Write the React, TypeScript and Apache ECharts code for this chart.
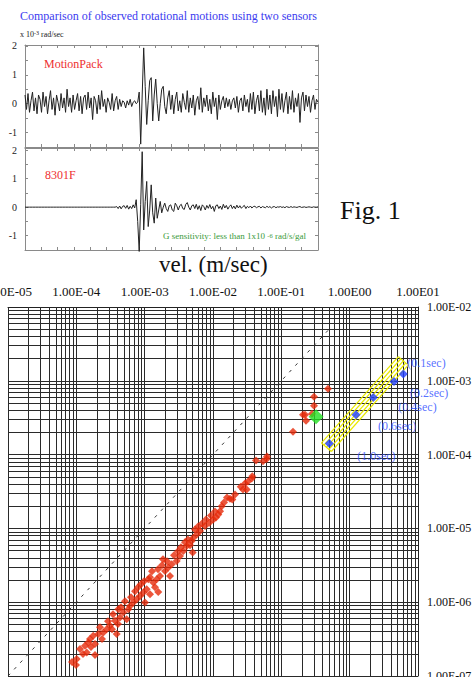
import React, { useEffect, useRef } from "react";
import * as echarts from "echarts";

// ---- waveform panels (units: x 10^-3 rad/sec), one sample per step ----
const motionPack = [
  0.3, -0.2, 0.35, -0.3, 0.1, 0.4, -0.25, 0.2, -0.35, 0.3,
  0.15, -0.3, 0.4, -0.1, 0.25, -0.35, 0.1, 0.45, -0.2, 0.2,
  -0.4, 0.3, 0.05, -0.25, 0.35, -0.15, 0.2, -0.3, 0.5, -0.1,
  0.2, -0.3, 0.3, -0.2, 0.1, 0.35, -0.25, 0.25, -0.35, 0.2,
  0.3, -0.2, 0.4, -0.15, 0.2, -0.55, 0.25, 0.1, -0.35, 0.3,
  -0.2, 0.45, -0.1, 0.15, -0.3, 0.2, 0.05, -0.2, 0.35, -0.25,
  0.1, 0.25, -0.2, 0.15, -0.1, 0.1, 0.05, -0.15, 0.1, -0.05,
  0.15, -0.1, 0.05, 0.1, 0.0, 0.05,
  0.4, -1.4, 0.3, 1.93, 0.6, -0.72, 0.1, 0.8, 0.9, -0.6,
  0.3, 0.85, 0.0, -0.6, 0.0, 0.5, 0.6, -0.1, -0.35, 0.2, 0.45,
  -0.2, 0.3, -0.35, 0.15, 0.4, -0.25, 0.1, -0.3, 0.35, 0.05, -0.2, 0.45, -0.3, 0.2, -0.15, 0.3, -0.4, 0.1, 0.25, -0.2,
  0.55, -0.3, 0.2, -0.1, 0.3, -0.25, 0.15, -0.35, 0.4, -0.1, 0.2, -0.55, 0.3, -0.2, 0.1, 0.25, -0.15, 0.2, -0.1, 0.15,
  -0.2, 0.1, 0.2, -0.15, 0.25, -0.3, 0.1, 0.2, -0.25, 0.3, -0.1, 0.15, -0.3, 0.35, -0.2, 0.4, -0.35, 0.1, 0.3, -0.25,
  0.45, -0.3, 0.2, -0.4, 0.5, -0.2, 0.3, -0.35, 0.45, -0.1, 0.25, -0.45, 0.5, -0.2, 0.35, -0.3, 0.1, 0.4, -0.35, 0.25,
  -0.2, 0.45, -0.3, 0.2, -0.1, 0.35, -0.65, 0.2, 0.4, -0.25, 0.3, -0.1, 0.25, -0.3, 0.1, 0.3, -0.2, 0.15, 0.05,
];

const sensor8301F = [
  0, 0, 0, 0, 0, 0, 0, 0, 0, 0, 0, 0, 0, 0, 0, 0, 0, 0, 0, 0,
  0, 0, 0, 0, 0, 0, 0, 0, 0, 0, 0, 0, 0, 0, 0, 0, 0, 0, 0, 0,
  0, 0, 0, 0, 0, 0, 0, 0, 0, 0, 0, 0, 0, 0, 0, 0, 0, 0, 0, 0, 0,
  0.02, -0.05, 0.04, -0.06, 0.03, 0.05, -0.04, 0.06, -0.07, 0.03, -0.05, 0.08, -0.03,
  0.26, -0.5, -1.55, 0.1, 1.94, -0.8, 0.2, 0.9, -0.68, -0.1, 0.78, -0.2, -0.56, 0.32, -0.39, -0.1,
  0.2, -0.2, 0.0, 0.14, -0.05, -0.15, 0.05, 0.08, -0.1, -0.15, 0.14, 0.05, -0.1, 0.05, 0.1, -0.05,
  -0.08, 0.1, 0.16, 0.0, -0.1, 0.05, 0.08,
  -0.05, 0.1, -0.08, 0.05, -0.12, 0.08, 0.02, -0.1, 0.06, -0.04, 0.09, -0.06, 0.03, -0.15, 0.05, 0.08, -0.05, 0.04,
  -0.08, 0.1, -0.03, 0.06, -0.07, 0.02, 0.08, -0.05, 0.04, -0.06, 0.07, -0.03, 0.05, -0.04, 0.02, 0.06, -0.05, 0.03, -0.02, 0.04,
  -0.03, 0.02, 0.03, -0.02, 0.01, 0.03, -0.03, 0.02, 0.0, -0.02, 0.03, -0.01, 0.02, -0.03, 0.01,
  0.02, -0.02, 0.01, 0.0, 0.02, -0.01, 0.01, -0.02, 0.02, 0.0, -0.01, 0.02, -0.01, 0.01, 0.0,
  -0.01, 0.01, 0.02, -0.01, 0.0, 0.01, -0.01, 0.0, 0.01, 0.0, -0.01, 0.01, 0.0, 0.0, 0.01,
];

const waveLabelTicks = [-1, 0, 1, 2];

// ---- log-log chart: log10(velocity m/s) vs log10(rotation rad/s) ----
const redLogVel = [
  -4.063, -4.005, -3.995, -3.946, -3.873, -3.848, -3.825, -3.8, -3.752, -3.727,
  -3.727, -3.678, -3.605, -3.556, -3.507, -3.434, -3.409, -3.386, -3.361, -3.313,
  -3.263, -3.239, -3.215, -3.166, -3.116, -3.068, -3.02, -2.995, -2.97, -2.947,
  -2.922, -2.874, -2.824, -2.801, -2.776, -2.702, -2.654, -2.629, -2.604, -2.531,
  -2.483, -2.434, -2.385, -2.312, -2.297, -2.288, -2.238, -2.19, -2.117, -2.054,
  -1.995, -1.922, -1.897, -1.873, -1.751, -1.717, -1.594, -1.532, -1.507, -1.433,
  -1.425, -1.371, -1.268, -1.214, -1.21,
  -3.654, -3.537, -3.478, -3.463, -3.346, -3.288, -3.2, -3.141, -3.097, -3.054,
  -3.01, -2.922, -2.893, -2.805, -2.746, -2.732, -2.673, -2.571, -2.512, -2.468,
  -2.41, -2.366, -2.336, -2.263, -2.219, -2.161, -2.102, -2.029, -1.971, -1.956,
  -1.839, -1.795, -1.678, -1.561, -1.488, -3.902, -3.785, -3.624, -3.39, -2.849,
  -0.317, -0.522, -0.522, -0.683, -0.653, -0.639, -0.551, -0.829,
];
const redLogRot = [
  -6.811, -6.851, -6.77, -6.635, -6.591, -6.68, -6.545, -6.5, -6.455, -6.568,
  -6.716, -6.432, -6.409, -6.365, -6.32, -6.253, -6.432, -6.095, -6.207, -6.139,
  -6.23, -6.095, -6.05, -6.004, -5.959, -5.915, -5.869, -6.004, -5.824, -5.689,
  -5.892, -5.734, -5.689, -5.861, -5.645, -5.577, -5.531, -5.645, -5.486, -5.442,
  -5.374, -5.307, -5.239, -5.172, -5.328, -5.126, -5.081, -5.036, -4.969, -4.923,
  -4.878, -4.811, -4.766, -4.699, -4.599, -4.608, -4.436, -4.392, -4.473, -4.324,
  -4.293, -4.081, -4.091, -4.058, -4.027,
  -6.338, -6.257, -6.365, -6.162, -6.068, -5.986, -5.932, -5.851, -5.797, -5.757,
  -5.716, -5.662, -5.581, -5.554, -5.5, -5.419, -5.446, -5.365, -5.311, -5.257,
  -5.189, -5.149, -5.23, -5.014, -4.973, -4.932, -4.878, -4.824, -4.77, -4.851,
  -4.649, -4.581, -4.541, -4.473, -4.365, -6.703, -6.608, -6.5, -6.297, -5.797,
  -3.108, -3.216, -3.338, -3.459, -3.459, -3.541, -3.446, -3.689,
];

const greenLogVel = [-0.492];
const greenLogRot = [-3.486];

const blueLogVel = [-0.298, 0.093, 0.346, 0.649, 0.785];
const blueLogRot = [-3.851, -3.459, -3.226, -3.009, -2.909];
const blueLabels = ["(1.0sec)", "(0.6sec)", "(0.4sec)", "(0.2sec)", "(0.1sec)"];

// yellow hatched band: segments [logVel1, logRot1, logVel2, logRot2]
const bandSegments = [
  [-0.268, -3.958, 0.857, -2.788],
  [-0.304, -3.929, 0.821, -2.759],
  [-0.34, -3.9, 0.785, -2.73],
  [-0.376, -3.871, 0.749, -2.701],
  [-0.412, -3.842, 0.713, -2.672],
  [-0.268, -3.958, -0.412, -3.842],
  [0.857, -2.788, 0.713, -2.672],
];

// 1:1 reference line (dashed)
const refLineVel = [1e-5, 0.55];
const refLineRot = [1e-7, 5.5e-3];

const xDecades = [1e-5, 1e-4, 1e-3, 1e-2, 1e-1, 1, 10];
const yDecades = [1e-7, 1e-6, 1e-5, 1e-4, 1e-3, 1e-2];
const minorMultipliers = [2, 3, 4, 5, 6, 7, 8, 9];

const SERIF = "'Liberation Serif', 'DejaVu Serif', serif";

const fmtE = (v: number) => {
  const e = Math.round(Math.log10(v));
  const a = Math.abs(e);
  return "1.00E" + (e < 0 ? "-" : "") + (a < 10 ? "0" : "") + a;
};

const FRAME = "#8a8a8a";
const GRIDLINE = "#2a2a2a";

function waveX(grid: number, pos: string, n: number) {
  return {
    type: "value",
    gridIndex: grid,
    position: pos,
    min: 0,
    max: n - 1,
    interval: (n - 1) / 18,
    axisLine: { show: true, onZero: false, lineStyle: { color: FRAME, width: 1 } },
    axisTick: { show: true, inside: true, length: 3, lineStyle: { color: FRAME } },
    axisLabel: { show: false },
    splitLine: { show: false },
  };
}

function waveY(grid: number, pos: string, min: number, max: number, labels: boolean) {
  return {
    type: "value",
    gridIndex: grid,
    position: pos,
    min,
    max,
    interval: 0.5,
    axisLine: { show: true, onZero: false, lineStyle: { color: FRAME, width: 1 } },
    axisTick: { show: true, inside: true, length: 3, lineStyle: { color: FRAME } },
    axisLabel: {
      show: labels,
      fontFamily: SERIF,
      fontSize: 10,
      color: "#222",
      margin: 8,
      formatter: (v: number) => (waveLabelTicks.indexOf(v) >= 0 ? String(v) : ""),
    },
    splitLine: { show: false },
  };
}

export default function App() {
  const ref = useRef<HTMLDivElement>(null);

  useEffect(() => {
    if (!ref.current) return;
    const chart = echarts.init(ref.current, undefined, { renderer: "svg" });

    const yMin = yDecades[0];
    const yMax = yDecades[yDecades.length - 1];
    const xMin = xDecades[0];
    const xMax = xDecades[xDecades.length - 1];

    const gridLines: any[] = [];
    xDecades.slice(0, -1).forEach((d) =>
      minorMultipliers.forEach((m) => gridLines.push({ coords: [[d * m, yMin], [d * m, yMax]] }))
    );
    yDecades.slice(0, -1).forEach((d) =>
      minorMultipliers.forEach((m) => gridLines.push({ coords: [[xMin, d * m], [xMax, d * m]] }))
    );

    const n1 = motionPack.length;
    const n2 = sensor8301F.length;

    const bandSeries = bandSegments.map((s) => ({
      type: "line",
      xAxisIndex: 4,
      yAxisIndex: 4,
      data: [
        [Math.pow(10, s[0]), Math.pow(10, s[1])],
        [Math.pow(10, s[2]), Math.pow(10, s[3])],
      ],
      symbol: "none",
      silent: true,
      lineStyle: { color: "#e8e800", width: 1.2 },
      z: 3,
    }));

    const labelOffsets = [[28, 12], [22, 11], [25, 10], [16, 12], [4, -11]];

    const option: any = {
      animation: false,
      textStyle: { fontFamily: SERIF },
      grid: [
        { left: 25, top: 45, width: 293, height: 102, containLabel: false, outerBoundsMode: "none" },
        { left: 25, top: 148, width: 293, height: 102, containLabel: false, outerBoundsMode: "none" },
        { left: 8, top: 307, width: 410, height: 369, containLabel: false, outerBoundsMode: "none" },
      ],
      xAxis: [
        waveX(0, "bottom", n1),
        waveX(0, "top", n1),
        waveX(1, "bottom", n2),
        waveX(1, "top", n2),
        {
          type: "log",
          logBase: 10,
          gridIndex: 2,
          position: "top",
          min: xMin,
          max: xMax,
          axisLine: { show: true, lineStyle: { color: "#222", width: 1 } },
          axisTick: { show: false },
          axisLabel: { formatter: fmtE, fontFamily: SERIF, fontSize: 13, color: "#111", margin: 9 },
          splitLine: { show: true, lineStyle: { color: GRIDLINE, width: 1 } },
        },
      ],
      yAxis: [
        waveY(0, "left", -1.5, 2.03, true),
        waveY(0, "right", -1.5, 2.03, false),
        waveY(1, "left", -1.5, 2.07, true),
        waveY(1, "right", -1.5, 2.07, false),
        {
          type: "log",
          logBase: 10,
          gridIndex: 2,
          position: "right",
          min: yMin,
          max: yMax,
          axisLine: { show: true, lineStyle: { color: "#222", width: 1 } },
          axisTick: { show: false },
          axisLabel: { formatter: fmtE, fontFamily: SERIF, fontSize: 12, color: "#111", margin: 9 },
          splitLine: { show: true, lineStyle: { color: GRIDLINE, width: 1 } },
        },
      ],
      series: [
        {
          type: "line",
          xAxisIndex: 0,
          yAxisIndex: 0,
          data: motionPack.map((v, i) => [i, v]),
          showSymbol: false,
          clip: false,
          lineStyle: { color: "#222", width: 1 },
        },
        {
          type: "line",
          xAxisIndex: 2,
          yAxisIndex: 2,
          data: sensor8301F.map((v, i) => [i, v]),
          showSymbol: false,
          clip: false,
          lineStyle: { color: "#222", width: 1 },
        },
        {
          type: "lines",
          coordinateSystem: "cartesian2d",
          xAxisIndex: 4,
          yAxisIndex: 4,
          silent: true,
          data: gridLines,
          lineStyle: { color: GRIDLINE, width: 1, opacity: 1, curveness: 0 },
          z: 1,
        },
        {
          type: "line",
          xAxisIndex: 4,
          yAxisIndex: 4,
          data: refLineVel.map((v, i) => [v, refLineRot[i]]),
          symbol: "none",
          silent: true,
          lineStyle: { color: "#333", width: 1, type: [3, 6] },
          z: 2,
        },
        ...bandSeries,
        {
          type: "scatter",
          xAxisIndex: 4,
          yAxisIndex: 4,
          symbol: "diamond",
          symbolSize: 8,
          itemStyle: { color: "#e62a0a" },
          data: redLogVel.map((v, i) => [Math.pow(10, v), Math.pow(10, redLogRot[i])]),
          z: 4,
        },
        {
          type: "scatter",
          xAxisIndex: 4,
          yAxisIndex: 4,
          symbol: "diamond",
          symbolSize: 15,
          itemStyle: { color: "#22e022" },
          data: greenLogVel.map((v, i) => [Math.pow(10, v), Math.pow(10, greenLogRot[i])]),
          z: 5,
        },
        {
          type: "scatter",
          xAxisIndex: 4,
          yAxisIndex: 4,
          symbol: "diamond",
          symbolSize: 9,
          itemStyle: { color: "#1f3dff" },
          label: {
            show: true,
            position: "inside",
            align: "left",
            verticalAlign: "middle",
            fontFamily: SERIF,
            fontSize: 12,
            color: "#2a4bff",
            formatter: (p: any) => blueLabels[p.dataIndex],
          },
          data: blueLogVel.map((v, i) => ({
            value: [Math.pow(10, v), Math.pow(10, blueLogRot[i])],
            label: { offset: labelOffsets[i] },
          })),
          z: 5,
        },
      ],
      graphic: [
        {
          type: "text",
          x: 20,
          y: 16,
          style: {
            text: "Comparison of observed rotational motions using two sensors",
            font: `12px ${SERIF}`,
            fill: "#3b3bef",
            verticalAlign: "middle",
          },
        },
        {
          type: "text",
          x: 20,
          y: 34,
          style: {
            text: "{a|x 10}{s|-3}{a| rad/sec}",
            verticalAlign: "middle",
            rich: {
              a: { fontFamily: SERIF, fontSize: 8, fill: "#222" },
              s: { fontFamily: SERIF, fontSize: 6, fill: "#222", verticalAlign: "top" },
            },
          },
        },
        {
          type: "text",
          x: 44,
          y: 64,
          style: { text: "MotionPack", font: `12px ${SERIF}`, fill: "#ee3030", verticalAlign: "middle" },
        },
        {
          type: "text",
          x: 45,
          y: 175,
          style: { text: "8301F", font: `12px ${SERIF}`, fill: "#ee3030", verticalAlign: "middle" },
        },
        {
          type: "text",
          x: 163,
          y: 236,
          style: {
            text: "{a|G sensitivity: less than 1x10 }{s|-6}{a| rad/s/gal}",
            verticalAlign: "middle",
            rich: {
              a: { fontFamily: SERIF, fontSize: 9, fill: "#3a9a3a" },
              s: { fontFamily: SERIF, fontSize: 6.5, fill: "#3a9a3a", verticalAlign: "top" },
            },
          },
        },
        {
          type: "text",
          x: 340,
          y: 210,
          style: { text: "Fig. 1", font: `26px ${SERIF}`, fill: "#111", verticalAlign: "middle" },
        },
        {
          type: "text",
          x: 159,
          y: 264,
          style: { text: "vel. (m/sec)", font: `23px ${SERIF}`, fill: "#111", verticalAlign: "middle" },
        },
      ],
    };

    chart.setOption(option);
    return () => chart.dispose();
  }, []);

  return (
    <div
      ref={ref}
      style={{ position: "fixed", left: 0, top: 0, width: 475, height: 677, background: "#fff" }}
    />
  );
}
